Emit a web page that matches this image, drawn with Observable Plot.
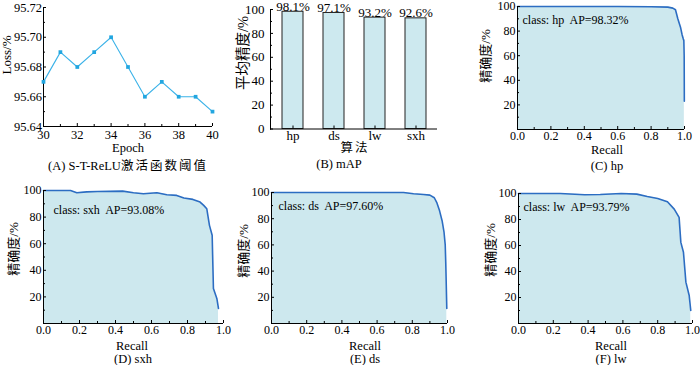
<!DOCTYPE html>
<html><head><meta charset="utf-8">
<script src="https://cdn.jsdelivr.net/npm/d3@7"></script>
<script src="https://cdn.jsdelivr.net/npm/@observablehq/plot@0.6"></script>
<style>
body{margin:0;background:#fff;}
#root{position:relative;width:700px;height:365px;overflow:hidden;font-family:"Liberation Serif","DejaVu Serif",serif;color:#000;}
.p{position:absolute;}
.t{position:absolute;white-space:nowrap;transform:translate(-50%,-50%);font-size:12.5px;line-height:1;}
.r{transform:translate(-50%,-50%) rotate(-90deg);}
.cj{font-family:"Noto Sans CJK SC",sans-serif;}
.sp{letter-spacing:2px;}
</style></head><body><div id="root"></div>
<script>
// ---------- data ----------
const epochs = [30, 31, 32, 33, 34, 35, 36, 37, 38, 39, 40];
const lossValues = [95.67, 95.69, 95.68, 95.69, 95.70, 95.68, 95.66, 95.67, 95.66, 95.66, 95.65];
const lossYTicks = [95.64, 95.66, 95.68, 95.70, 95.72];
const lossYMinor = [95.65, 95.67, 95.69, 95.71];
const lossXTicks = [30, 32, 34, 36, 38, 40];
const lossXMinor = [31, 33, 35, 37, 39];

const algorithms = ["hp", "ds", "lw", "sxh"];
const mAPValues = [98.1, 97.1, 93.2, 92.6];
const mAPYTicks = [0, 20, 40, 60, 80, 100];
const mAPYMinor = [10, 30, 50, 70, 90];

const prXTicks = [0, 0.2, 0.4, 0.6, 0.8, 1.0];
const prXMinor = [0.1, 0.3, 0.5, 0.7, 0.9];
const prYTicks = [20, 40, 60, 80, 100];
const prYMinor = [10, 30, 50, 70, 90];

const hpRecall    = [0, 0.2, 0.4, 0.6, 0.8, 0.9, 0.93, 0.946, 0.96, 0.976, 0.986, 0.993, 0.996, 0.998, 0.999];
const hpPrecision = [100, 100, 100, 100, 99.8, 99.5, 98.7, 97.4, 90, 83.2, 76.8, 73.5, 72.5, 60, 23];

const sxhRecall    = [0, 0.15, 0.185, 0.24, 0.3, 0.44, 0.5, 0.555, 0.63, 0.685, 0.74, 0.78, 0.83, 0.87, 0.89, 0.907, 0.922, 0.937, 0.944, 0.963, 0.972];
const sxhPrecision = [100, 100, 98.3, 99, 99.2, 99.5, 98.3, 97.5, 98.3, 96.8, 96.3, 94.3, 93.3, 91.3, 88.8, 86.3, 73.8, 66.3, 26.3, 18.8, 11.3];

const dsRecall    = [0, 0.3, 0.6, 0.75, 0.807, 0.864, 0.9, 0.925, 0.94, 0.955, 0.97, 0.98, 0.987, 0.99, 0.996];
const dsPrecision = [100, 100, 100, 100, 99, 98.5, 98, 96, 92, 86, 78, 70, 60, 47, 11.5];

const lwRecall    = [0, 0.24, 0.38, 0.47, 0.59, 0.68, 0.74, 0.80, 0.856, 0.895, 0.923, 0.933, 0.948, 0.962, 0.981, 0.99];
const lwPrecision = [100, 100, 99, 99.2, 100, 99.5, 97.7, 96.2, 93.6, 88, 81.6, 62.4, 54.8, 31.8, 21.5, 10];

// ---------- helpers ----------
const root = document.getElementById("root");
const FONT = "'Liberation Serif', 'DejaVu Serif', serif";
function place(node, left, top) {
  node.classList.add("p");
  node.style.left = left + "px";
  node.style.top = top + "px";
  root.appendChild(node);
}
function label(html, x, y, cls = "", size = null) {
  const d = document.createElement("div");
  d.className = "t " + cls;
  d.innerHTML = html;
  d.style.left = x + "px";
  d.style.top = y + "px";
  if (size) d.style.fontSize = size + "px";
  root.appendChild(d);
}
const baseStyle = {fontFamily: FONT, fontSize: "13px", background: "transparent", overflow: "visible", color: "#000"};
const prStyle = {...baseStyle, fontSize: "12px"};

// ---------- (A) ----------
const lossData = epochs.map((e, i) => ({e, v: lossValues[i]}));
place(Plot.plot({
  width: 225, height: 140, marginLeft: 43, marginRight: 13, marginTop: 7, marginBottom: 14,
  style: {...baseStyle, fontSize: "12.5px"},
  x: {domain: [epochs[0], epochs[epochs.length - 1]]},
  y: {domain: [lossYTicks[0], lossYTicks[lossYTicks.length - 1]]},
  marks: [
    Plot.ruleX([epochs[0]], {stroke: "#000"}),
    Plot.ruleY([lossYTicks[0]], {stroke: "#000"}),
    Plot.axisX({ticks: lossXTicks, tickSize: -3, tickPadding: 6.5, label: null, tickFormat: d3.format("d")}),
    Plot.axisX({ticks: lossXMinor, tickSize: -2, tickPadding: 0, label: null, tickFormat: () => ""}),
    Plot.axisY({ticks: lossYTicks, tickSize: -3, tickPadding: 4.5, label: null, tickFormat: d3.format(".2f")}),
    Plot.axisY({ticks: lossYMinor, tickSize: -2, tickPadding: 0, label: null, tickFormat: () => ""}),
    Plot.lineY(lossData, {x: "e", y: "v", stroke: "#3ab2e8", strokeWidth: 1.1}),
    Plot.dot(lossData, {x: "e", y: "v", symbol: "square", r: 2.1, fill: "#22a6e0", stroke: "none"})
  ]
}), 0, 0);
label("Loss/%", 6, 55, "r", 13);
label("Epoch", 128, 148);
label('(A) S-T-ReLU<span class="cj sp">激活函数阈值</span>', 128, 166);

// ---------- (B) ----------
const mAPData = algorithms.map((a, i) => ({a, v: mAPValues[i]}));
place(Plot.plot({
  width: 215, height: 142, marginLeft: 40, marginRight: 8, marginTop: 9, marginBottom: 13.5,
  style: baseStyle,
  x: {domain: algorithms, paddingInner: 0.5, paddingOuter: 0.25},
  y: {domain: [0, 100]},
  marks: [
    Plot.barY(mAPData, {x: "a", y: "v", fill: "#cde9ef", stroke: "#222", strokeWidth: 1}),
    Plot.text(mAPData, {x: "a", y: "v", text: d => d.v.toFixed(1) + "%", lineAnchor: "bottom", dy: -1, fontSize: 13}),
    Plot.ruleY([0], {stroke: "#000"}),
    Plot.frame({anchor: "left", stroke: "#000"}),
    Plot.axisX({tickSize: -3, tickPadding: 5, label: null}),
    Plot.axisY({ticks: mAPYTicks, tickSize: -3, tickPadding: 9, label: null}),
    Plot.axisY({ticks: mAPYMinor, tickSize: -2, tickPadding: 0, label: null, tickFormat: () => ""})
  ]
}), 230, 0);
label('<span class="cj">平均精度</span>/%', 243, 53, "r", 14.5);
label('<span class="cj sp">算法</span>', 355, 148);
label("(B) mAP", 339, 164);

// ---------- PR curves ----------
function prPlot(recall, precision, text, o) {
  const data = recall.map((r, i) => ({r, p: precision[i]}));
  return Plot.plot({
    width: o.width, height: o.height,
    marginLeft: o.ml, marginRight: o.mr, marginTop: o.mt, marginBottom: o.mb,
    style: prStyle,
    x: {domain: [prXTicks[0], prXTicks[prXTicks.length - 1]]},
    y: {domain: [0, prYTicks[prYTicks.length - 1]]},
    marks: [
      Plot.areaY(data, {x: "r", y: "p", fill: "#cde8ee"}),
      Plot.lineY(data, {x: "r", y: "p", stroke: "#2c6dc2", strokeWidth: 1.6}),
      Plot.ruleX([0], {stroke: "#000"}),
      Plot.ruleY([0], {stroke: "#000"}),
      Plot.axisX({ticks: prXTicks, tickSize: -3, tickPadding: 5, label: null, tickFormat: d3.format(".1f")}),
      Plot.axisX({ticks: prXMinor, tickSize: -2, tickPadding: 0, label: null, tickFormat: () => ""}),
      Plot.axisY({ticks: prYTicks, tickSize: -3, tickPadding: 5, label: null}),
      Plot.axisY({ticks: prYMinor, tickSize: -2, tickPadding: 0, label: null, tickFormat: () => ""}),
      Plot.text([text], {frameAnchor: "top-left", textAnchor: "start", dx: o.tdx, dy: o.tdy, fontSize: 12})
    ]
  });
}
const CJK = '<span class="cj">精确度</span>/%';

place(prPlot(hpRecall, hpPrecision, "class: hp\u00a0 AP=98.32%",
  {width: 240, height: 145, ml: 57, mr: 16, mt: 6, mb: 16, tdx: 5, tdy: 9}), 460, 0);
label(CJK, 485, 56, "r", 13);
label("Recall", 607, 149.5);
label("(C) hp", 607, 165.5);

place(prPlot(sxhRecall, sxhPrecision, "class: sxh\u00a0 AP=93.08%",
  {width: 240, height: 163, ml: 43, mr: 17, mt: 15, mb: 15, tdx: 10, tdy: 15}), 0, 175);
label(CJK, 13, 249, "r", 13);
label("Recall", 132, 345.5);
label("(D) sxh", 133, 359);

place(prPlot(dsRecall, dsPrecision, "class: ds\u00a0 AP=97.60%",
  {width: 230, height: 163, ml: 41, mr: 13, mt: 17, mb: 15, tdx: 7, tdy: 9}), 230, 175);
label(CJK, 243, 251, "r", 13);
label("Recall", 365, 345.5);
label("(E) ds", 365, 358.5);

place(prPlot(lwRecall, lwPrecision, "class: lw\u00a0 AP=93.79%",
  {width: 240, height: 163, ml: 58, mr: 8, mt: 18, mb: 15, tdx: 5, tdy: 9}), 460, 175);
label(CJK, 490, 250, "r", 13);
label("Recall", 611, 345.5);
label("(F) lw", 611, 359);
</script></body></html>
